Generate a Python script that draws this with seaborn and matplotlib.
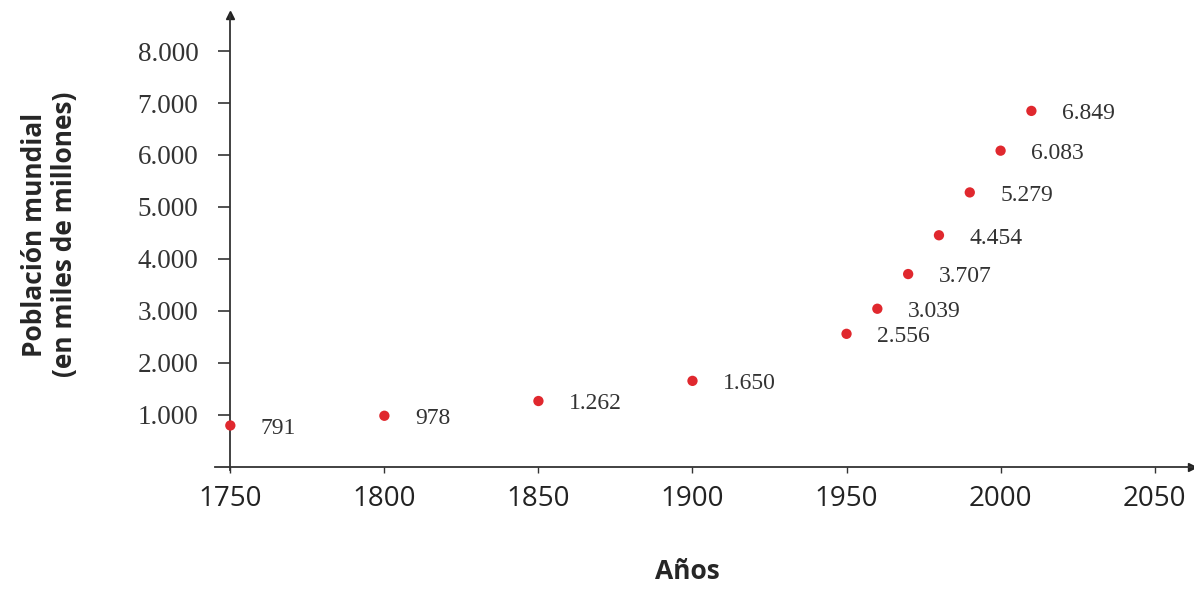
import seaborn as sns
import matplotlib.pyplot as plt
import pandas as pd

# world population by year (thousands of millions shown as millions)
years = [1750, 1800, 1850, 1900, 1950, 1960, 1970, 1980, 1990, 2000, 2010]
population = [791, 978, 1262, 1650, 2556, 3039, 3707, 4454, 5279, 6083, 6849]
value_labels = ["791", "978", "1.262", "1.650", "2.556", "3.039", "3.707",
                "4.454", "5.279", "6.083", "6.849"]
x_ticks = [1750, 1800, 1850, 1900, 1950, 2000, 2050]
y_ticks = [1000, 2000, 3000, 4000, 5000, 6000, 7000, 8000]
y_tick_labels = ["1.000", "2.000", "3.000", "4.000", "5.000", "6.000", "7.000", "8.000"]

df = pd.DataFrame({"year": years, "population": population})

sns.set_style("white")
fig = plt.figure(figsize=(11.94, 5.91), dpi=100)
ax = fig.add_axes([0.180, 0.193, 0.818, 0.782])

sns.scatterplot(data=df, x="year", y="population", color="#e0282e",
                s=55, edgecolor="none", ax=ax, zorder=3)

for x, y, lab in zip(years, population, value_labels):
    ax.annotate(lab, (x, y), xytext=(22, -2), textcoords="offset points",
                va="center", ha="left", fontsize=17, color="#333333",
                family="Liberation Serif")

ax.set_xlim(1745, 2062)
ax.set_ylim(-200, 8700)

# axes crossing at (1750, 0)
for side in ["top", "right"]:
    ax.spines[side].set_visible(False)
ax.spines["left"].set_position(("data", 1750))
ax.spines["bottom"].set_position(("data", 0))
ax.spines["left"].set_bounds(-60, 8700)
for side in ["left", "bottom"]:
    ax.spines[side].set_color("#333333")
    ax.spines[side].set_linewidth(1.3)
ax.plot(1, 0, ">", color="#222222", ms=6, transform=ax.get_yaxis_transform(), clip_on=False)
ax.plot(1750, 1, "^", color="#222222", ms=6, transform=ax.get_xaxis_transform(), clip_on=False)

ax.set_xticks(x_ticks)
ax.set_xticklabels([str(t) for t in x_ticks], fontsize=20, family="Open Sans", color="#222222")
ax.set_yticks(y_ticks)
ax.set_yticklabels(y_tick_labels, fontsize=19.5, family="Liberation Serif", color="#333333")
ax.tick_params(axis="y", direction="out", length=9, width=1.2, pad=14, color="#333333", left=True)
ax.tick_params(axis="x", direction="out", length=4, width=1, pad=9, color="#333333", bottom=True)

ax.set_ylabel("Población mundial\n(en miles de millones)", fontsize=19,
              fontweight="bold", family="Open Sans", linespacing=1.15)
ax.yaxis.set_label_coords(-0.14, 0.524)
ax.set_xlabel("Años", fontsize=19, fontweight="bold", family="Open Sans")
ax.xaxis.set_label_coords(0.484, -0.175)

plt.savefig("out.png", dpi=100)
